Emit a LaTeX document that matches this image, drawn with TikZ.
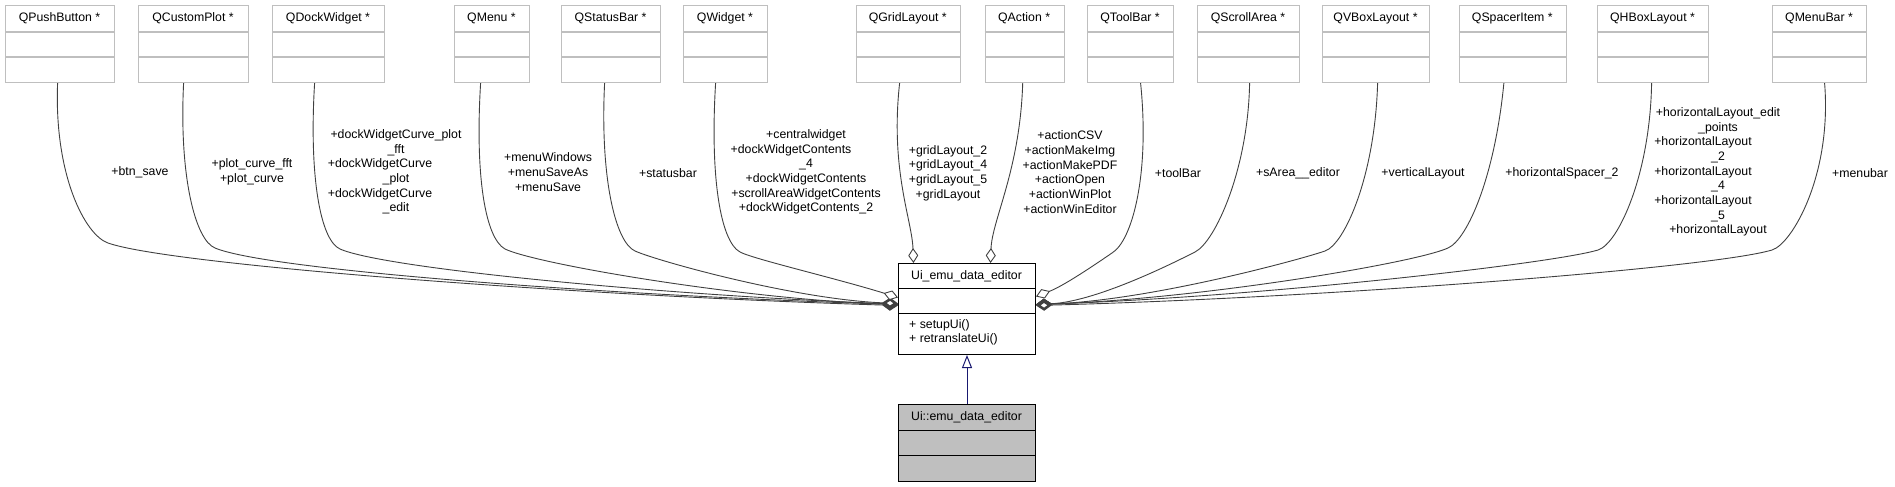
\documentclass[tikz,border=0pt]{standalone}
\usepackage{fontspec}
\setmainfont{Liberation Sans}
\usetikzlibrary{arrows.meta}
\definecolor{edgec}{HTML}{404040}
\definecolor{boxline}{HTML}{BFBFBF}
\definecolor{boxfill}{HTML}{BFBFBF}
\definecolor{inhc}{HTML}{191970}
\newcommand\topclass[4]{%
  \node[classbox, minimum width={#3-#2}] (#1) at (#2,5) {};
  \draw[sepline] (#2,32) -- (#3,32) (#2,57) -- (#3,57);
  \node[titletext] (#1t) at ({(#2+#3)/2},18.5) {#4};
}
\begin{document}
\begin{tikzpicture}[x=1pt,y=-1pt,
  font=\fontsize{12.3}{14.7}\selectfont,
  classbox/.style={draw=boxline, line width=1.2pt, fill=white, inner sep=0pt, anchor=north west, minimum height=77pt},
  sepline/.style={draw=boxline, line width=1.2pt},
  titletext/.style={inner sep=0pt, anchor=center},
  lbl/.style={align=center, inner sep=0pt, anchor=center},
  agg/.style={draw=edgec, line width=0.9pt, -{Diamond[length=15pt,width=10pt,fill=white]}},
  aggc/.style={draw=edgec, line width=0.9pt, -{Diamond[length=16pt,width=11pt,fill=white,line width=2.6pt]}},
  inh/.style={draw=inhc, line width=1pt, -{Triangle[open,length=13pt,width=10pt]}}
]
\useasboundingbox (0,0) rectangle (1895,487);

% top classes
\topclass{pb}{5}{114}{QPushButton *}
\topclass{cp}{138}{248}{QCustomPlot *}
\topclass{dw}{272}{384}{QDockWidget *}
\topclass{mn}{454}{529}{QMenu *}
\topclass{sb}{561}{660}{QStatusBar *}
\topclass{wg}{683}{767}{QWidget *}
\topclass{gl}{855.5}{960}{QGridLayout *}
\topclass{ac}{984.5}{1063.7}{QAction *}
\topclass{tb}{1087}{1173}{QToolBar *}
\topclass{sa}{1197}{1299}{QScrollArea *}
\topclass{vb}{1322}{1429}{QVBoxLayout *}
\topclass{sp}{1458.5}{1566}{QSpacerItem *}
\topclass{hb}{1597}{1708}{QHBoxLayout *}
\topclass{mb}{1772}{1866}{QMenuBar *}

% central class
\node[draw=black, line width=1pt, fill=white, minimum width=137pt, minimum height=91pt, inner sep=0pt, anchor=north west] (ui) at (898,263) {};
\draw[black, line width=1pt] (898,288) -- (1035,288) (898,313) -- (1035,313);
\node[titletext] (uit) at (966.5,276) {Ui\_emu\_data\_editor};
\node[align=left, anchor=west, inner sep=0pt, font=\fontsize{12.3}{13.5}\selectfont] (uim) at (909,332.5) {+ setupUi()\\+ retranslateUi()};

% derived class
\node[draw=black, line width=1pt, fill=boxfill, minimum width=137pt, minimum height=77pt, inner sep=0pt, anchor=north west] (uid) at (898,404) {};
\draw[black, line width=1pt] (898,430) -- (1035,430) (898,455) -- (1035,455);
\node[titletext] (uidt) at (966.5,417) {Ui::emu\_data\_editor};

\draw[inh] (uid.north) -- (ui.south);

% left group
\draw[aggc] ([xshift=-2.5pt]pb.south) .. controls (54,175) and (85,235) .. (108,243) .. controls (170,265) and (581,296) .. ([yshift=3.5pt]ui.west);
\draw[aggc] ([xshift=-10pt]cp.south) .. controls (179,175) and (195,240) .. (215,248) .. controls (270,271) and (625,296) .. ([yshift=4.5pt]ui.west);
\draw[aggc] ([xshift=-14pt]dw.south) .. controls (309,175) and (320,240) .. (340,249) .. controls (385,269) and (675,296) .. ([yshift=5pt]ui.west);
\draw[aggc] ([xshift=-11.5pt]mn.south) .. controls (475,175) and (485,238) .. (505,249) .. controls (536,264) and (741,299) .. ([yshift=4.5pt]ui.west);
\draw[aggc] ([xshift=-6.5pt]sb.south) .. controls (600,176) and (615,242) .. (635,251) .. controls (656,260.5) and (793,299) .. ([yshift=5.5pt]ui.west);
\draw[agg] ([xshift=-10pt]wg.south) .. controls (710,175) and (720,241) .. (740,252) .. controls (753,259) and (835,278) .. ([yshift=11.5pt]ui.west);

% top group
\draw[agg] ([xshift=-8.75pt]gl.south) .. controls (890,170) and (912,220) .. ([xshift=-53.5pt]ui.north);
\draw[agg] ([xshift=-2pt]ac.south) .. controls (1020,170) and (992,220) .. ([xshift=23.5pt]ui.north);

% right group
\draw[agg] ([xshift=10pt]tb.south) .. controls (1150,175) and (1132,241) .. (1112,253) .. controls (1106,257) and (1066,285) .. ([yshift=12.5pt]ui.east);
\draw[aggc] ([xshift=1pt]sa.south) .. controls (1248,170) and (1215,242) .. (1195,252) .. controls (1182,258.5) and (1099,301.4) .. ([yshift=4.5pt]ui.east);
\draw[aggc] ([xshift=1.5pt]vb.south) .. controls (1375,175) and (1345,244) .. (1325,251) .. controls (1302,259) and (1151,300.5) .. ([yshift=4.5pt]ui.east);
\draw[aggc] ([xshift=-9pt]sp.south) .. controls (1495,175) and (1468,239) .. (1448,248) .. controls (1415,263) and (1200,299) .. ([yshift=4.5pt]ui.east);
\draw[aggc] ([xshift=-1.5pt]hb.south) .. controls (1650,175) and (1618,244) .. (1598,250) .. controls (1553,263.5) and (1260,297) .. ([yshift=4.5pt]ui.east);
\draw[aggc] ([xshift=5pt]mb.south) .. controls (1832,175) and (1792,244) .. (1772,250) .. controls (1713,267.7) and (1330,297.6) .. ([yshift=3.5pt]ui.east);

% labels
\node[lbl] (lpb) at (140,172) {+btn\_save};
\node[lbl] (lcp) at (252,172) {+plot\_curve\_fft\\+plot\_curve};
\node[lbl] (ldw) at (396,172) {+dockWidgetCurve\_plot\\\_fft\\+dockWidgetCurve\kern32pt\\\_plot\\+dockWidgetCurve\kern32pt\\\_edit};
\node[lbl] (lmn) at (548,172) {+menuWindows\\+menuSaveAs\\+menuSave};
\node[lbl] (lsb) at (668,173) {+statusbar};
\node[lbl] (lwg) at (806,172) {+centralwidget\\+dockWidgetContents\kern30pt\\\_4\\+dockWidgetContents\\+scrollAreaWidgetContents\\+dockWidgetContents\_2};
\node[lbl] (lgl) at (948,173) {+gridLayout\_2\\+gridLayout\_4\\+gridLayout\_5\\+gridLayout};
\node[lbl] (lac) at (1070,172) {+actionCSV\\+actionMakeImg\\+actionMakePDF\\+actionOpen\\+actionWinPlot\\+actionWinEditor};
\node[lbl] (ltb) at (1178,173) {+toolBar};
\node[lbl] (lsa) at (1298,173) {+sArea\_\_editor};
\node[lbl] (lvb) at (1423,173) {+verticalLayout};
\node[lbl] (lsp) at (1562,173) {+horizontalSpacer\_2};
\node[lbl] (lhb) at (1718,172) {+horizontalLayout\_edit\\\_points\\+horizontalLayout\kern30pt\\\_2\\+horizontalLayout\kern30pt\\\_4\\+horizontalLayout\kern30pt\\\_5\\+horizontalLayout};
\node[lbl] (lmb) at (1860,173) {+menubar};
\end{tikzpicture}
\end{document}
